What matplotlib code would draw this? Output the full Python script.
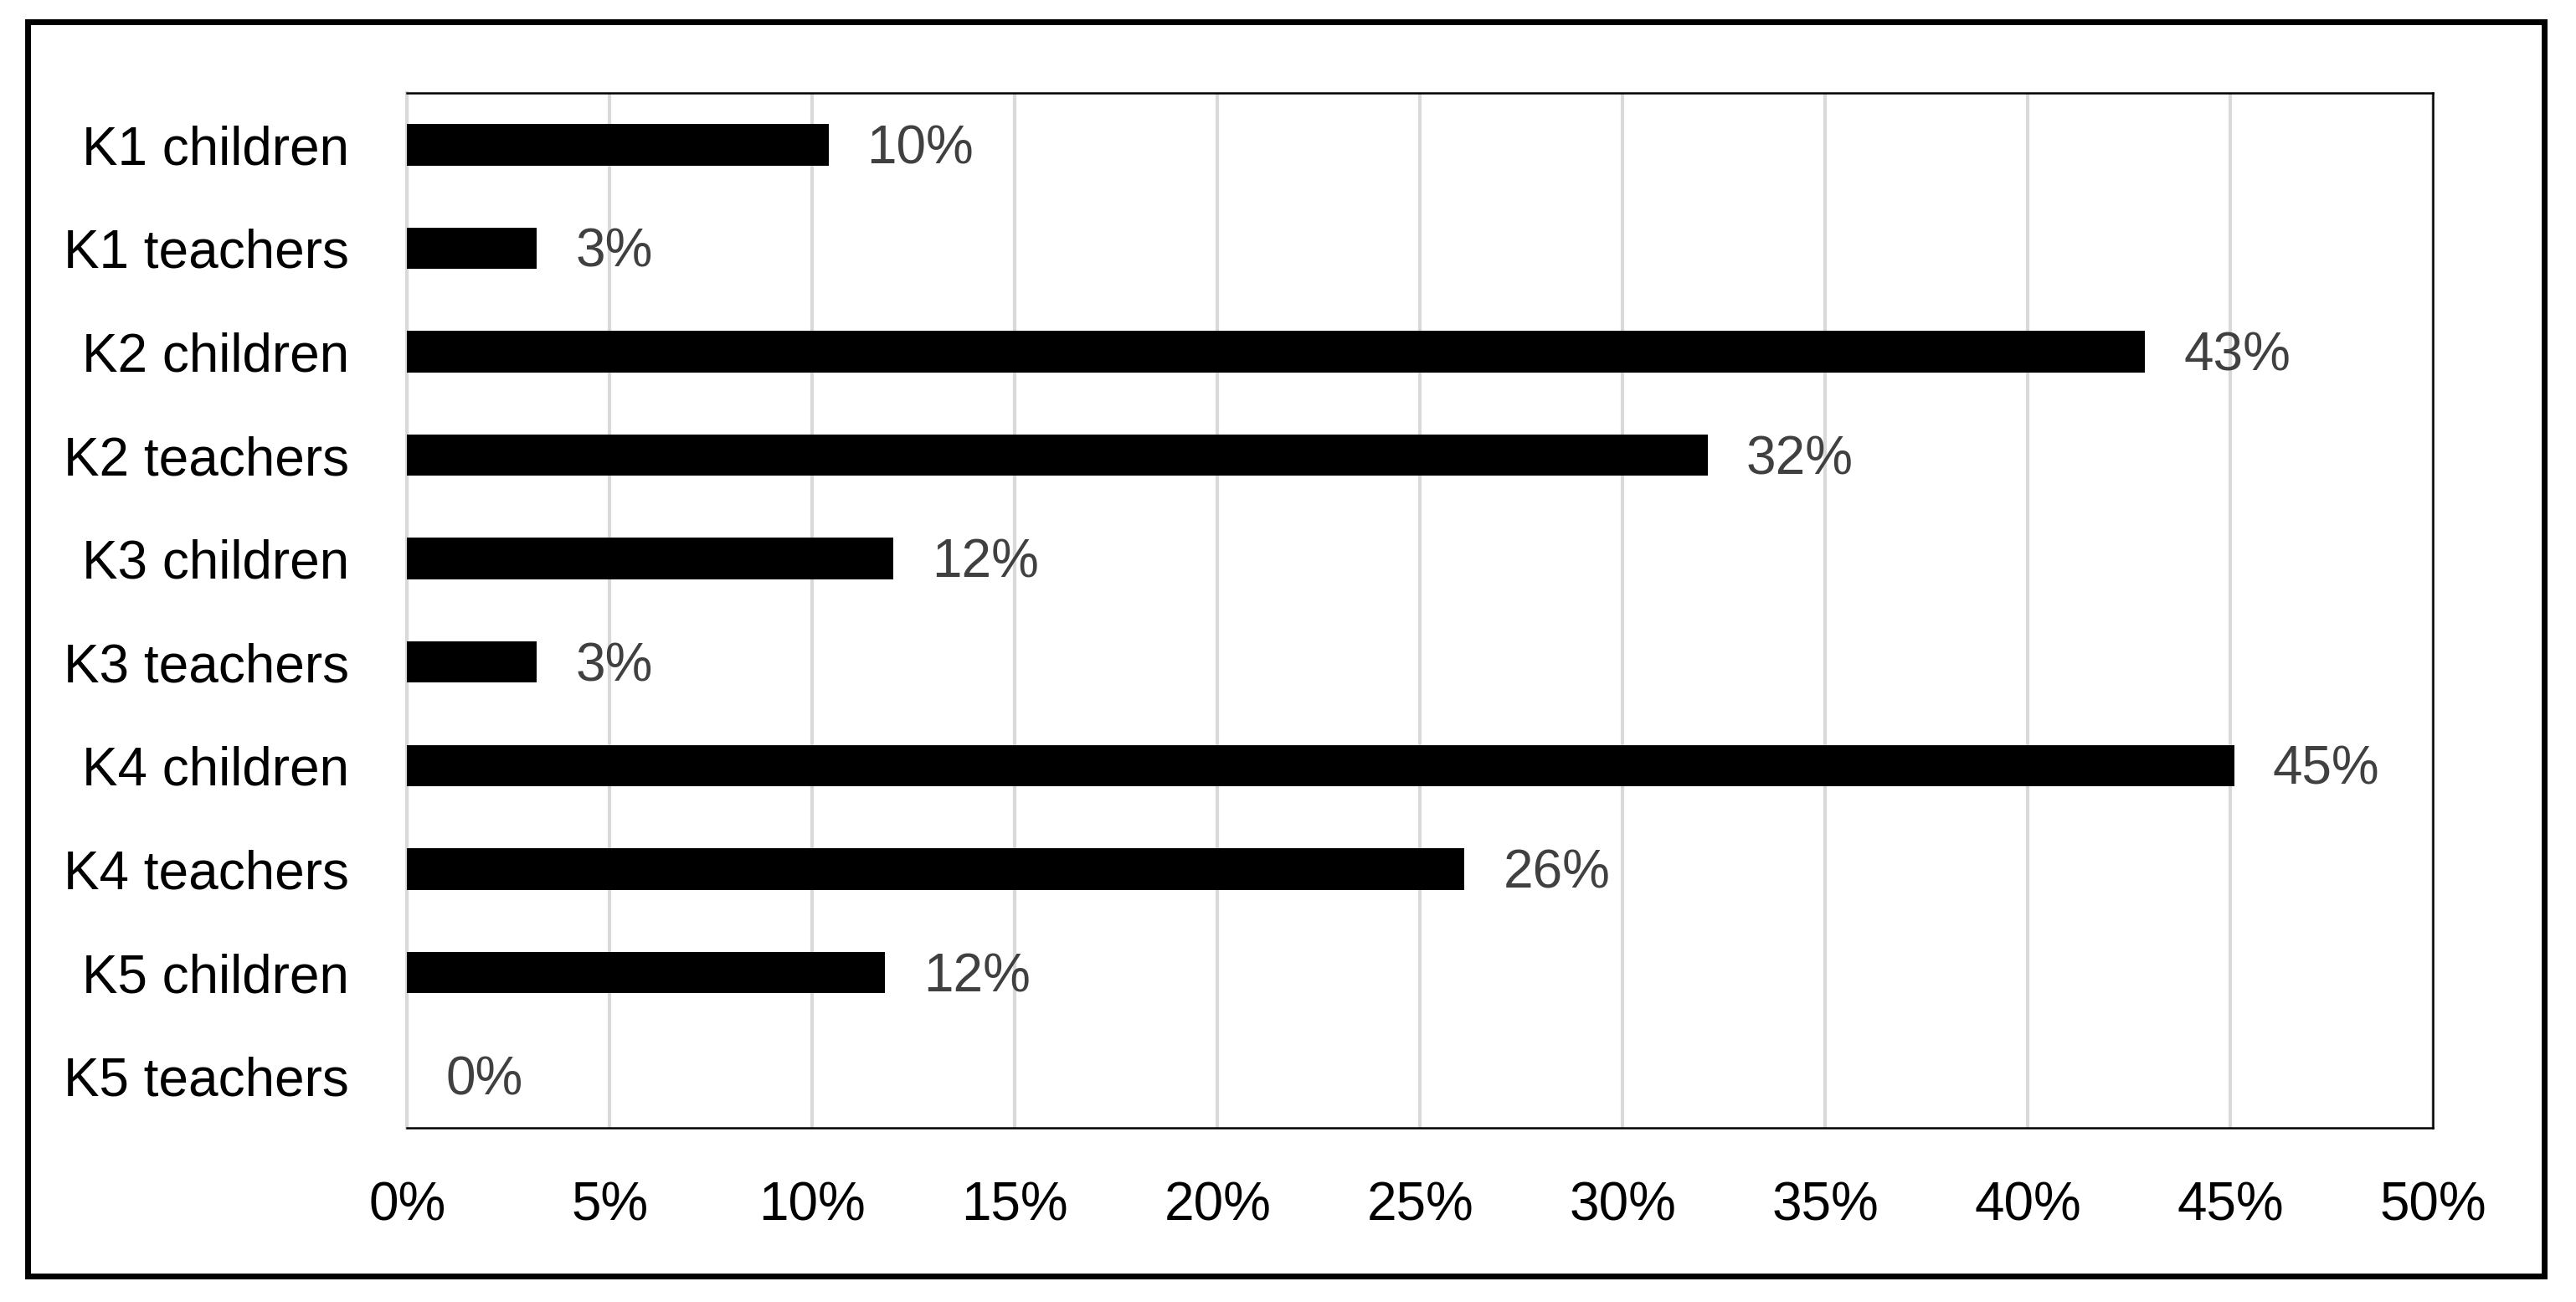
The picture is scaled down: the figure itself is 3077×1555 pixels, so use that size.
import matplotlib.pyplot as plt
import matplotlib.ticker as mticker
from matplotlib.patches import Rectangle

# Chart data
categories = ["K1 children", "K1 teachers", "K2 children", "K2 teachers", "K3 children",
              "K3 teachers", "K4 children", "K4 teachers", "K5 children", "K5 teachers"]
values = [10.4, 3.2, 42.9, 32.1, 12.0, 3.2, 45.1, 26.1, 11.8, 0.0]
value_labels = ["10%", "3%", "43%", "32%", "12%", "3%", "45%", "26%", "12%", "0%"]
x_ticks = [0, 5, 10, 15, 20, 25, 30, 35, 40, 45, 50]

plt.rcParams.update({
    'font.family': ['Liberation Sans Narrow', 'Liberation Sans', 'DejaVu Sans'],
    'font.size': 46,
})

fig = plt.figure(figsize=(30.77, 15.55), dpi=100)
ax = fig.add_axes([0.1581, 0.1338, 0.9444 - 0.1581, 0.9286 - 0.1338])

y = list(range(len(categories)))
ax.barh(y, values, height=0.4, color='black', zorder=3)

# value labels, nudged slightly below bar centre like the original
for yi, v, lab in zip(y, values, value_labels):
    ax.annotate(lab, (v, yi), xytext=(33, -4), textcoords='offset points',
                ha='left', va='center', color='#404040', fontsize=46)

ax.set_xlim(0, 50)
ax.set_ylim(len(categories) - 0.5, -0.5)
ax.set_xticks(x_ticks)
ax.xaxis.set_major_formatter(mticker.FuncFormatter(lambda v, p: f"{v:.0f}%"))
ax.set_yticks(y)
ax.set_yticklabels(categories)

ax.grid(axis='x', color='#d9d9d9', linewidth=3, zorder=0)
ax.tick_params(axis='both', length=0, labelsize=46, colors='black')
ax.tick_params(axis='x', pad=46)
ax.tick_params(axis='y', pad=50)

for side in ['top', 'right', 'bottom']:
    ax.spines[side].set_color('black')
    ax.spines[side].set_linewidth(1.8)
ax.spines['left'].set_color('#d9d9d9')
ax.spines['left'].set_linewidth(3)

# outer frame
fig.patches.append(Rectangle((33 / 3077, 1 - 1524 / 1555), (3039 - 33) / 3077, (1524 - 26) / 1555,
                             transform=fig.transFigure, fill=False, edgecolor='black', linewidth=5))

fig.savefig('out.png', dpi=100)
